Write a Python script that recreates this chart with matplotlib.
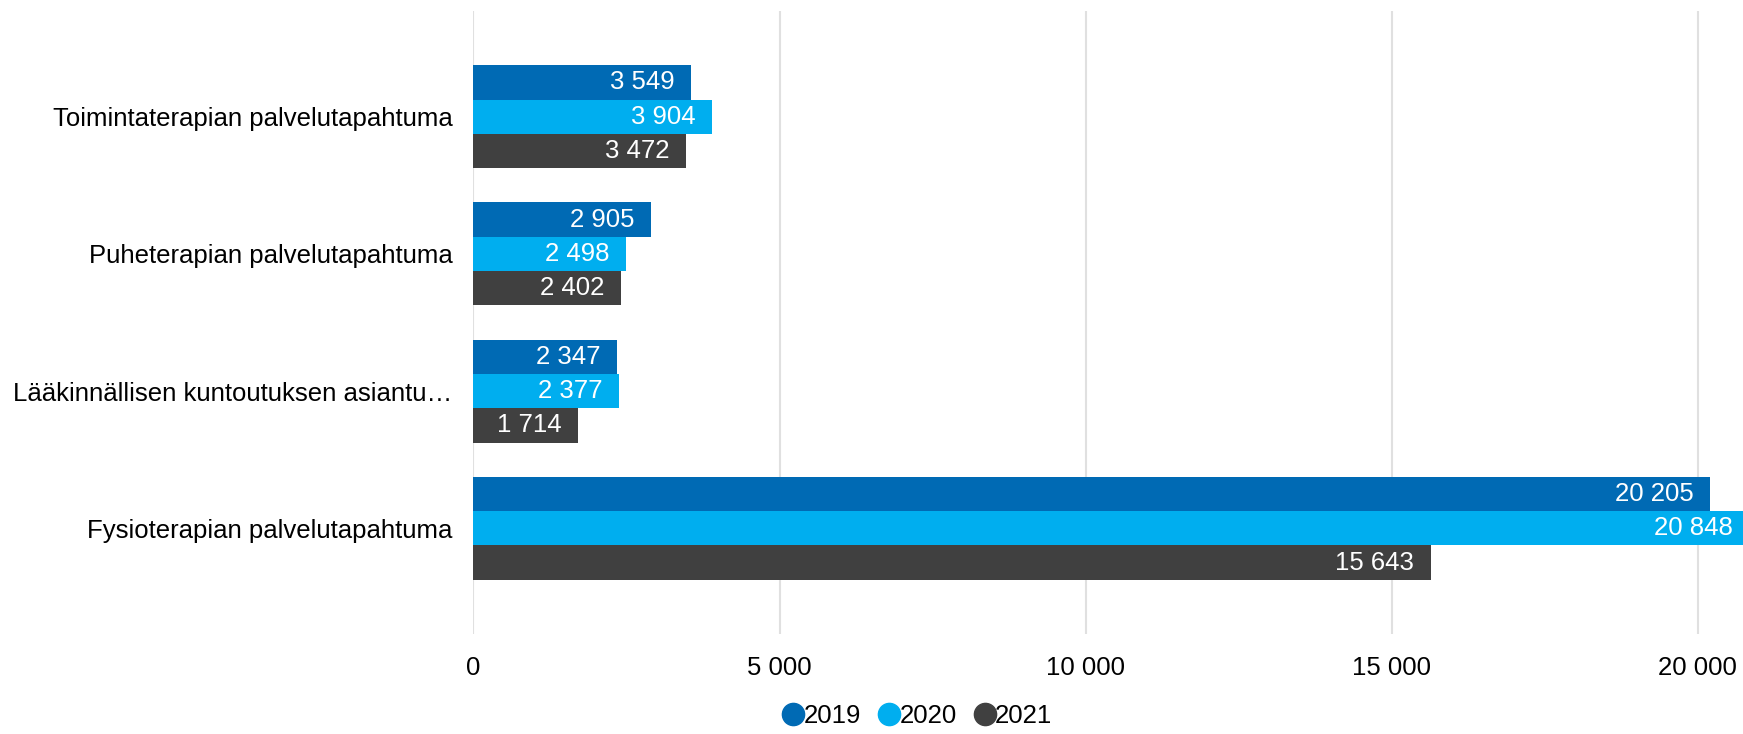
import numpy as np
import matplotlib.pyplot as plt
from matplotlib.lines import Line2D

plt.rcParams['font.family'] = ['Liberation Sans', 'DejaVu Sans']

categories = ['Toimintaterapian palvelutapahtuma',
              'Puheterapian palvelutapahtuma',
              'Lääkinnällisen kuntoutuksen asiantu…',
              'Fysioterapian palvelutapahtuma']
years = ['2019', '2020', '2021']
values_2019 = [3549, 2905, 2347, 20205]
values_2020 = [3904, 2498, 2377, 20848]
values_2021 = [3472, 2402, 1714, 15643]
colors = ['#006ab4', '#00aeef', '#404040']
xticks = [0, 5000, 10000, 15000, 20000]


def fmt(v):
    return f'{v:,}'.replace(',', ' ')


fs = 18.5
fig = plt.figure(figsize=(17.43, 7.34), dpi=100)
ax = fig.add_axes([473.5 / 1743, 100 / 734, 1 - 473.5 / 1743, 623 / 734])

pos = np.arange(len(categories))
h = 0.25
series = [values_2019, values_2020, values_2021]
for i, (vals, c) in enumerate(zip(series, colors)):
    y = pos + (i - 1) * h
    ax.barh(y, vals, height=h, color=c, zorder=2)
    for yy, v in zip(y, vals):
        ax.text(v - 270, yy, fmt(v), ha='right', va='center', color='white',
                fontsize=fs, zorder=3)

ax.set_xlim(0, 20743)
ax.set_ylim(3.77, -0.77)
ax.set_yticks(pos)
ax.set_yticklabels(categories, fontsize=fs)
ax.set_xticks(xticks)
ax.set_xticklabels([fmt(t) for t in xticks], fontsize=fs)
ax.tick_params(axis='x', length=0, pad=16)
ax.tick_params(axis='y', length=0, pad=15)
ax.grid(axis='x', color='#e0e0e0', linewidth=1.5, zorder=0)
for s in ax.spines.values():
    s.set_visible(False)

handles = [Line2D([], [], marker='o', linestyle='', markersize=16, color=c)
           for c in colors]
fig.legend(handles, years, loc='center', bbox_to_anchor=(0.525, 18 / 734),
           ncol=3, frameon=False, fontsize=fs, handletextpad=-0.2,
           columnspacing=0.5, handlelength=1.2)

fig.savefig('out.png', dpi=100)
